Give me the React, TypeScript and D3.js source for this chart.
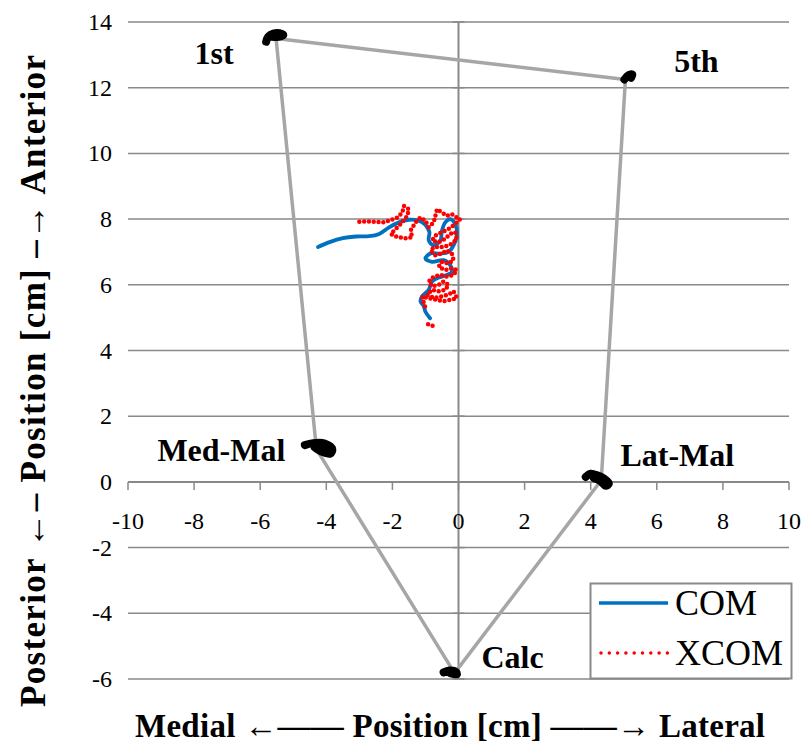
import React from 'react';
import * as d3 from 'd3';

// landmarks (cm)
const landmarkNames = ['1st', '5th', 'Lat-Mal', 'Calc', 'Med-Mal'];
const landmarkX = [-5.52, 5.05, 4.32, -0.12, -4.3];
const landmarkY = [13.5, 12.25, 0.05, -5.82, 1.0];

// marker smudges around each landmark
const blob1stX = [-5.82, -5.76, -5.6, -5.42, -5.3, -5.45, -5.65];
const blob1stY = [13.4, 13.55, 13.65, 13.66, 13.6, 13.55, 13.55];
const blob5thX = [5.02, 5.14, 5.26, 5.22];
const blob5thY = [12.25, 12.38, 12.4, 12.3];
const blobLatX = [3.85, 4.0, 4.2, 4.4, 4.55, 4.45, 4.3, 4.1];
const blobLatY = [0.15, 0.25, 0.2, 0.1, -0.05, -0.12, 0.02, 0.12];
const blobCalcX = [-0.45, -0.28, -0.08, -0.05, -0.25];
const blobCalcY = [-5.8, -5.74, -5.78, -5.86, -5.82];
const blobMedX = [-4.65, -4.4, -4.05, -3.82, -3.88, -4.15, -4.35];
const blobMedY = [1.12, 1.18, 1.17, 1.0, 0.86, 0.92, 1.05];

// centre of mass
const comX = [-4.25, -3.9, -3.5, -3.1, -2.7, -2.4, -2.1, -1.8, -1.5, -1.2, -1.0, -0.88, -0.9, -0.75, -0.55, -0.5, -0.4, -0.25, -0.1, -0.05, -0.15, -0.3, -0.55, -0.85, -1.0, -0.8, -0.45, -0.25, -0.2, -0.4, -0.6, -0.8, -0.9, -1.1, -1.15, -1.05, -1.0, -0.86];
const comY = [7.15, 7.3, 7.42, 7.47, 7.48, 7.55, 7.75, 7.9, 7.98, 7.95, 7.82, 7.6, 7.35, 7.2, 7.35, 7.65, 7.9, 8.0, 7.85, 7.5, 7.2, 7.0, 6.95, 6.95, 6.8, 6.7, 6.75, 6.6, 6.4, 6.28, 6.22, 6.1, 5.85, 5.65, 5.5, 5.35, 5.18, 4.98];

// extrapolated centre of mass (null = gap)
const xcomX = [-3.0, -2.75, -2.5, -2.25, -2.05, -1.85, -1.7, -1.65, -1.5, -1.55, -1.75, -1.95, -2.05, -1.85, -1.6, -1.4, -1.45, -1.3, -1.15, -1.0, -0.9, -0.75, -0.65, -0.5, -0.35, -0.2, -0.05, 0.05, -0.1, -0.3, -0.5, -0.7, -0.8, -0.6, -0.4, -0.25, -0.1, -0.05, -0.2, -0.45, -0.7, -0.85, -0.7, -0.5, -0.35, -0.2, -0.15, -0.3, -0.5, -0.6, -0.4, -0.2, -0.05, -0.15, -0.35, -0.55, -0.75, -0.9, -0.8, -0.6, -0.45, -0.3, -0.4, -0.6, -0.8, -0.95, -0.75, -0.5, -0.3, -0.15, -0.05, -0.2, -0.45, -0.7, -0.95, -1.1, -1.05, -1.0, null, -0.92, -0.8, -0.68];
const xcomY = [7.92, 7.93, 7.92, 7.9, 7.97, 8.05, 8.2, 8.4, 8.3, 8.1, 7.85, 7.65, 7.55, 7.45, 7.42, 7.45, 7.65, 7.9, 8.05, 7.95, 7.75, 7.9, 8.3, 8.2, 8.1, 8.15, 8.05, 8.0, 7.85, 7.7, 7.6, 7.5, 7.35, 7.3, 7.4, 7.55, 7.6, 7.4, 7.25, 7.15, 7.15, 7.05, 6.9, 6.95, 7.05, 6.95, 6.75, 6.65, 6.7, 6.55, 6.45, 6.5, 6.45, 6.3, 6.25, 6.3, 6.25, 6.1, 5.95, 6.0, 6.1, 6.0, 5.85, 5.8, 5.85, 5.7, 5.6, 5.65, 5.7, 5.8, 5.6, 5.55, 5.5, 5.55, 5.6, 5.65, 5.45, 5.3, null, 4.8, 4.75, 4.78];

const xTicks = [-10, -8, -6, -4, -2, 0, 2, 4, 6, 8, 10];
const yTicks = [-6, -4, -2, 0, 2, 4, 6, 8, 10, 12, 14];
const seriesNames = ['COM', 'XCOM'];

// label placement relative to each landmark (px)
const labelOffsets = [[-62, 26], [71, -7], [76, -14], [58, -5], [-95, 12]];

const GRID = '#898989';
const FONT = 'Liberation Serif';

export default function App() {
  const x = d3.scaleLinear().domain([-10, 10]).range([128, 789]);
  const y = d3.scaleLinear().domain([-6, 14]).range([679, 22]);

  const toPts = (xs: (number | null)[], ys: (number | null)[]) => xs.map((v, i) => [v, ys[i]] as [number | null, number | null]);
  const line = d3
    .line<[number | null, number | null]>()
    .defined((d) => d[0] !== null && d[1] !== null)
    .x((d) => x(d[0] as number))
    .y((d) => y(d[1] as number));
  const smooth = d3
    .line<[number | null, number | null]>()
    .defined((d) => d[0] !== null)
    .x((d) => x(d[0] as number))
    .y((d) => y(d[1] as number))
    .curve(d3.curveCatmullRom);

  const order = [0, 1, 2, 3, 4, 0];
  const outline = line(order.map((i) => [landmarkX[i], landmarkY[i]]));

  const blobs = [
    toPts(blob1stX, blob1stY),
    toPts(blob5thX, blob5thY),
    toPts(blobLatX, blobLatY),
    toPts(blobCalcX, blobCalcY),
    toPts(blobMedX, blobMedY),
  ];

  const x0 = x(0);
  const y0 = y(0);
  const txt = { fontFamily: FONT };

  return (
    <svg width={804} height={744} style={{ position: 'absolute', left: 0, top: 0, background: '#fff', fontFamily: FONT }}>
      <rect width={804} height={744} fill="#fff" />
      {/* gridlines */}
      {yTicks.map((t) => (
        <line key={'g' + t} x1={x(-10)} x2={x(10)} y1={y(t)} y2={y(t)} stroke={GRID} strokeWidth={1.5} />
      ))}
      {/* vertical axis through x = 0 */}
      <line x1={x0} x2={x0} y1={y(14)} y2={y(-6)} stroke={GRID} strokeWidth={2} />
      {yTicks.map((t) => (
        <line key={'yt' + t} x1={x0 - 6} x2={x0 + 6} y1={y(t)} y2={y(t)} stroke={GRID} strokeWidth={1.5} />
      ))}
      {/* horizontal axis through y = 0 */}
      <line x1={x(-10)} x2={x(10)} y1={y0} y2={y0} stroke={GRID} strokeWidth={2} />
      {xTicks.map((t) => (
        <line key={'xt' + t} x1={x(t)} x2={x(t)} y1={y0} y2={y0 + 8} stroke={GRID} strokeWidth={1.5} />
      ))}
      {xTicks.map((t) => (
        <text key={'xl' + t} style={txt} x={x(t)} y={y0 + 47} fontSize={24} textAnchor="middle" fill="#000">
          {t}
        </text>
      ))}
      {yTicks.map((t) => (
        <text key={'yl' + t} style={txt} x={112} y={y(t) + 8} fontSize={24} textAnchor="end" fill="#000">
          {t}
        </text>
      ))}

      {/* foot outline + marker smudges */}
      <path d={outline || ''} fill="none" stroke="#a6a6a6" strokeWidth={3.5} strokeLinejoin="round" />
      {blobs.map((b, i) => (
        <path key={'b' + i} d={smooth(b) || ''} fill="#000" stroke="#000" strokeWidth={8} strokeLinecap="round" strokeLinejoin="round" />
      ))}

      {/* trajectories */}
      <path d={smooth(toPts(comX, comY)) || ''} fill="none" stroke="#0070c0" strokeWidth={3.8} strokeLinejoin="round" strokeLinecap="round" />
      <path d={line(toPts(xcomX, xcomY)) || ''} fill="none" stroke="#ff0000" strokeWidth={4.5} strokeDasharray="0 4.8" strokeLinecap="round" />

      {landmarkNames.map((n, i) => (
        <text
          key={n}
          style={txt}
          x={x(landmarkX[i]) + labelOffsets[i][0]}
          y={y(landmarkY[i]) + labelOffsets[i][1]}
          fontSize={32}
          fontWeight="bold"
          textAnchor="middle"
          fill="#000"
        >
          {n}
        </text>
      ))}

      {/* legend */}
      <rect x={590.5} y={583.5} width={201} height={95} fill="#fff" stroke={GRID} strokeWidth={2} />
      <line x1={599} x2={668} y1={603} y2={603} stroke="#0070c0" strokeWidth={3.5} />
      <text style={txt} x={675} y={615} fontSize={36} fill="#000">{seriesNames[0]}</text>
      <line x1={601} x2={668} y1={653} y2={653} stroke="#ff0000" strokeWidth={3.5} strokeDasharray="0 8.3" strokeLinecap="round" />
      <text style={txt} x={675} y={665} fontSize={36} fill="#000">{seriesNames[1]}</text>

      {/* axis titles */}
      <text style={txt} x={450} y={737} fontSize={33} fontWeight="bold" textAnchor="middle" textLength={630} lengthAdjust="spacing" fill="#000">
        Medial ←—— Position [cm] ——→ Lateral
      </text>
      <text style={txt} transform="translate(45,381) rotate(-90)" fontSize={35} fontWeight="bold" textAnchor="middle" textLength={652} lengthAdjust="spacing" fill="#000">
        Posterior ←– Position [cm] –→ Anterior
      </text>
    </svg>
  );
}
